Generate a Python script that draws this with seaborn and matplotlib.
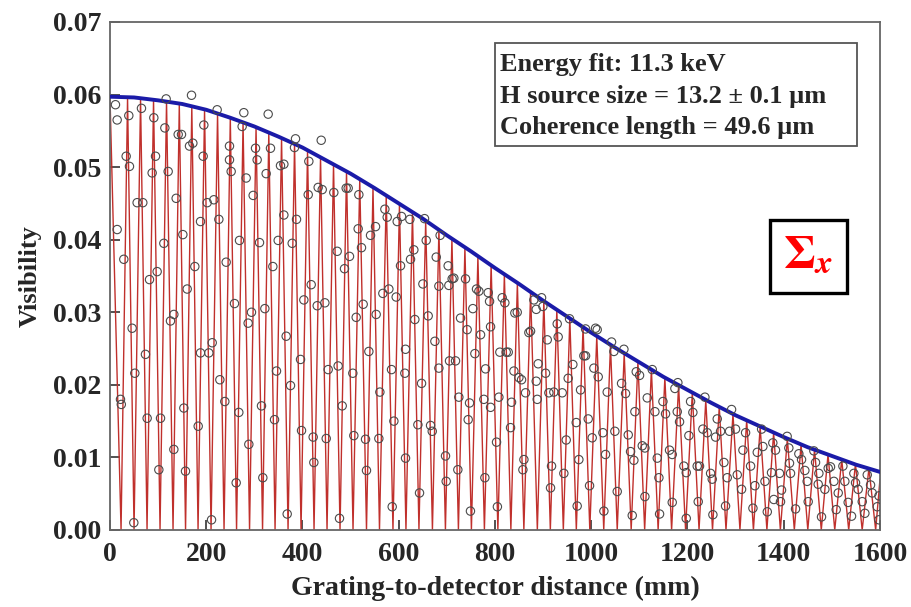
import matplotlib
matplotlib.use("Agg")
import matplotlib.pyplot as plt
import matplotlib.patches as patches
from matplotlib.ticker import FormatStrFormatter
import seaborn as sns
import pandas as pd

# Fitted visibility envelope (blue), every 50 mm
envelope_mm = [0, 50, 100, 150, 200, 250, 300, 350, 400, 450, 500, 550, 600, 650, 700,
               750, 800, 850, 900, 950, 1000, 1050, 1100, 1150, 1200, 1250, 1300, 1350,
               1400, 1450, 1500, 1550, 1600]
envelope_vis = [0.0597, 0.0596, 0.0592, 0.0587, 0.0579, 0.0568, 0.0556, 0.0542, 0.0527,
                0.0509, 0.0491, 0.0471, 0.0450, 0.0429, 0.0406, 0.0384, 0.0361, 0.0339,
                0.0316, 0.0294, 0.0272, 0.0251, 0.0231, 0.0211, 0.0193, 0.0175, 0.0158,
                0.0143, 0.0128, 0.0114, 0.0102, 0.0090, 0.0080]

# Model curve (red): positions where it drops to zero ...
trough_mm = [23, 50, 77, 104, 131, 157, 183, 210, 237, 263, 290, 317, 343, 370, 397, 424,
             451, 478, 505, 533, 560, 588, 615, 642, 670, 697, 724, 751, 778, 806, 833,
             860, 888, 915, 942, 969, 997, 1026, 1054, 1083, 1111, 1139, 1167, 1196, 1224,
             1252, 1280, 1309, 1337, 1365, 1393, 1422, 1450, 1478, 1506, 1535, 1563, 1591]
# ... and its crests, which touch the envelope
crest_mm = [0, 36.5, 63.5, 90.5, 117.5, 144, 170, 196.5, 223.5, 250, 276.5, 303.5, 330,
            356.5, 383.5, 410.5, 437.5, 464.5, 491.5, 519, 546.5, 574, 601.5, 628.5, 656,
            683.5, 710.5, 737.5, 764.5, 792, 819.5, 846.5, 874, 901.5, 928.5, 955.5, 983,
            1011.5, 1040, 1068.5, 1097, 1125, 1153, 1181.5, 1210, 1238, 1266, 1294.5, 1323,
            1351, 1379, 1407.5, 1436, 1464, 1492, 1520.5, 1549, 1577, 1600]
crest_vis = [0.0597, 0.0596, 0.0595, 0.0593, 0.0591, 0.0587, 0.0584, 0.0579, 0.0574, 0.0568,
             0.0562, 0.0555, 0.0548, 0.0540, 0.0532, 0.0523, 0.0514, 0.0504, 0.0494, 0.0483,
             0.0472, 0.0461, 0.0449, 0.0437, 0.0426, 0.0414, 0.0401, 0.0389, 0.0377, 0.0365,
             0.0352, 0.0340, 0.0328, 0.0316, 0.0303, 0.0292, 0.0280, 0.0267, 0.0255, 0.0243,
             0.0232, 0.0221, 0.0210, 0.0199, 0.0189, 0.0179, 0.0170, 0.0160, 0.0151, 0.0142,
             0.0134, 0.0126, 0.0118, 0.0111, 0.0104, 0.0097, 0.0091, 0.0085, 0.0070]

# Measured points (open circles)
point_mm = [
    11.4, 14.9, 14.9, 21.8, 23.5, 28.7, 33.6, 39.1, 40.5, 46.0, 49.5, 51.6, 56.4, 65.4, 68.2,
    73.7, 77.2, 82.1, 87.6, 91.1, 94.6, 98.0, 101.5, 105.0, 111.9, 114.0, 116.7, 120.9, 125.7,
    132.7, 132.7, 137.5, 141.7, 148.6, 151.4, 153.5, 156.9, 160.4, 165.2, 169.4, 172.2, 176.3,
    183.3, 188.1, 188.1, 193.6, 195.0, 202.0, 205.4, 211.0, 212.4, 215.8, 222.7, 226.2, 228.3,
    238.6, 241.4, 248.3, 248.3, 251.8, 258.7, 262.2, 267.7, 269.1, 274.6, 278.1, 283.0, 287.1,
    288.5, 294.0, 297.5, 302.4, 305.8, 310.7, 314.8, 317.6, 321.8, 324.5, 328.7, 333.5, 338.4,
    341.9, 346.0, 349.5, 354.3, 361.3, 361.3, 366.1, 368.2, 375.1, 378.6, 383.4, 385.5, 387.6,
    395.9, 398.0, 402.8, 411.9, 413.2, 418.1, 422.2, 423.6, 430.6, 432.6, 438.9, 441.0, 446.5,
    449.3, 453.4,
    465.1, 472.1, 474.1, 476.9, 482.5, 487.3, 490.8, 494.9, 497.7, 504.6, 506.7, 511.6, 515.7,
    517.1, 522.6, 526.1, 531.0, 533.0, 537.9, 541.4, 551.8, 553.1, 558.7, 560.8, 567.0, 571.2,
    576.0, 579.5, 585.0, 586.4, 589.9, 594.7, 596.8, 603.7, 605.8, 612.7, 614.1, 614.1, 623.1,
    624.5, 631.4, 633.5, 639.8, 643.2, 647.4, 650.2, 653.6, 657.1, 661.2, 666.1, 669.6, 675.1,
    677.9, 683.4, 683.4,
    686.0, 697.2, 698.6, 702.7, 704.1, 705.5, 711.0, 714.5, 718.0, 722.8, 724.9, 728.4, 749.0,
    738.8, 742.2, 744.3, 747.1, 754.0, 758.2, 761.6, 766.5, 770.0, 776.9, 779.0, 780.4, 785.9,
    788.7, 790.8, 790.8, 805.0, 803.2, 808.1, 810.1, 815.0, 820.5, 823.3, 827.5, 832.3, 834.4,
    839.3, 841.3, 846.2, 849.7, 855.2, 858.0, 860.1, 863.5, 870.4, 873.9, 880.8, 885.7, 885.7,
    887.8, 889.8, 896.8, 899.5, 905.1, 908.6, 912.0,
    917.5, 915.4, 922.3, 929.3, 931.3, 939.7, 943.1, 948.0, 952.1, 954.9, 961.8, 968.8, 970.8,
    974.3, 977.8, 984.7, 988.2, 988.2, 993.7, 996.5, 1002.0, 1005.5, 1009.0, 1012.4, 1014.5,
    1024.2, 1026.3, 1029.7, 1033.2, 1042.2, 1047.1, 1049.1, 1054.0, 1063.0, 1067.9, 1071.3,
    1076.9, 1081.7, 1085.2, 1088.6, 1090.7, 1093.5, 1100.4, 1106.0, 1111.5, 1111.5, 1116.4,
    1126.8, 1132.3, 1137.2, 1140.6,
    1142.0, 1149.0, 1154.4, 1162.7, 1168.3, 1168.3, 1173.8, 1180.0, 1178.7, 1183.5, 1192.5,
    1197.4, 1197.4, 1202.9, 1206.4, 1211.2, 1220.2, 1225.0, 1222.3, 1232.0, 1236.2, 1241.0,
    1248.0, 1251.4, 1252.8, 1258.4, 1261.8, 1268.7, 1275.7, 1279.1, 1282.6, 1287.4, 1291.6,
    1299.9, 1303.4, 1312.4, 1315.2, 1320.7, 1331.1, 1336.0, 1340.1, 1345.0, 1354.0, 1356.7,
    1361.0, 1365.8,
    1374.6, 1377.3, 1379.4, 1382.9, 1391.2, 1393.3, 1395.4, 1407.1, 1410.6, 1412.0, 1414.1,
    1424.5, 1431.4, 1437.0, 1443.9, 1448.7, 1450.8, 1462.6, 1466.1, 1471.6, 1473.0, 1478.5,
    1485.5, 1492.4, 1497.2, 1504.2, 1509.0, 1513.2, 1522.9, 1527.0, 1533.9, 1540.9, 1545.7,
    1549.2, 1554.7, 1563.1, 1568.6, 1573.5, 1580.4, 1583.9, 1594.3, 1597.8, 1597.8]
point_vis = [
    0.0586, 0.0565, 0.0414, 0.0180, 0.0173, 0.0373, 0.0515, 0.0571, 0.0501, 0.0278, 0.0010,
    0.0216, 0.0451, 0.0581, 0.0451, 0.0242, 0.0154, 0.0345, 0.0492, 0.0568, 0.0515, 0.0356,
    0.0083, 0.0154, 0.0395, 0.0554, 0.0594, 0.0494, 0.0288, 0.0297, 0.0111, 0.0457, 0.0545,
    0.0545, 0.0407, 0.0168, 0.0081, 0.0332, 0.0529, 0.0599, 0.0533, 0.0363, 0.0143, 0.0425,
    0.0244, 0.0515, 0.0558, 0.0451, 0.0244, 0.0014, 0.0258, 0.0455, 0.0579, 0.0428, 0.0207,
    0.0177, 0.0369, 0.0529, 0.0510, 0.0494, 0.0312, 0.0065, 0.0162, 0.0399, 0.0556, 0.0575,
    0.0485, 0.0285, 0.0118, 0.0300, 0.0461, 0.0526, 0.0510, 0.0396, 0.0171, 0.0072, 0.0305,
    0.0491, 0.0573, 0.0526, 0.0363, 0.0152, 0.0219, 0.0399, 0.0502, 0.0504, 0.0434, 0.0267,
    0.0022, 0.0199, 0.0395, 0.0527, 0.0539, 0.0428, 0.0235, 0.0137, 0.0317, 0.0462, 0.0508,
    0.0338, 0.0128, 0.0093, 0.0309, 0.0472, 0.0537, 0.0469, 0.0313, 0.0126, 0.0221,
    0.0465, 0.0384, 0.0226, 0.0016, 0.0171, 0.0360, 0.0471, 0.0471, 0.0377, 0.0216, 0.0130,
    0.0293, 0.0415, 0.0462, 0.0389, 0.0311, 0.0125, 0.0082, 0.0246, 0.0406, 0.0418, 0.0297,
    0.0126, 0.0190, 0.0326, 0.0442, 0.0431, 0.0332, 0.0221, 0.0032, 0.0150, 0.0321, 0.0425,
    0.0364, 0.0432, 0.0216, 0.0249, 0.0099, 0.0428, 0.0373, 0.0386, 0.0290, 0.0145, 0.0051,
    0.0202, 0.0339, 0.0429, 0.0399, 0.0295, 0.0144, 0.0136, 0.0260, 0.0376, 0.0336, 0.0223,
    0.0406, 0.0102, 0.0067, 0.0364, 0.0337, 0.0233, 0.0346, 0.0347, 0.0233, 0.0083, 0.0183,
    0.0292, 0.0026, 0.0346, 0.0276, 0.0152, 0.0175, 0.0305, 0.0243, 0.0332, 0.0329, 0.0269,
    0.0180, 0.0072, 0.0222, 0.0327, 0.0315, 0.0280, 0.0169, 0.0032, 0.0121, 0.0183, 0.0245,
    0.0320, 0.0313, 0.0245, 0.0245, 0.0141, 0.0176, 0.0219, 0.0299, 0.0300, 0.0210, 0.0207,
    0.0083, 0.0097, 0.0189, 0.0272, 0.0274, 0.0317, 0.0304, 0.0205, 0.0180, 0.0229, 0.0320,
    0.0308, 0.0216, 0.0262, 0.0189,
    0.0088, 0.0058, 0.0190, 0.0284, 0.0266, 0.0189, 0.0078, 0.0124, 0.0209, 0.0291, 0.0228,
    0.0148, 0.0033, 0.0097, 0.0193, 0.0240, 0.0240, 0.0277, 0.0153, 0.0061, 0.0127, 0.0223,
    0.0278, 0.0276, 0.0211, 0.0134, 0.0026, 0.0104, 0.0190, 0.0259, 0.0246, 0.0136, 0.0053,
    0.0202, 0.0249, 0.0188, 0.0131, 0.0108, 0.0020, 0.0096, 0.0163, 0.0218, 0.0213, 0.0116,
    0.0046, 0.0113, 0.0182, 0.0221, 0.0163, 0.0099, 0.0072,
    0.0022, 0.0177, 0.0160, 0.0110, 0.0104, 0.0038, 0.0195, 0.0203, 0.0163, 0.0149, 0.0088,
    0.0079, 0.0016, 0.0130, 0.0177, 0.0162, 0.0088, 0.0088, 0.0039, 0.0139, 0.0183, 0.0134,
    0.0078, 0.0070, 0.0021, 0.0128, 0.0153, 0.0136, 0.0093, 0.0033, 0.0072, 0.0136, 0.0166,
    0.0139, 0.0076, 0.0056, 0.0110, 0.0134, 0.0088, 0.0030, 0.0061, 0.0107, 0.0139, 0.0115,
    0.0067, 0.0025,
    0.0079, 0.0120, 0.0042, 0.0110, 0.0078, 0.0039, 0.0055, 0.0129, 0.0113, 0.0092, 0.0078,
    0.0029, 0.0105, 0.0097, 0.0082, 0.0067, 0.0039, 0.0109, 0.0093, 0.0063, 0.0078, 0.0018,
    0.0056, 0.0085, 0.0087, 0.0067, 0.0028, 0.0051, 0.0088, 0.0067, 0.0038, 0.0019, 0.0078,
    0.0065, 0.0056, 0.0039, 0.0023, 0.0076, 0.0062, 0.0051, 0.0032, 0.0047, 0.0014]

x_ticks = [0, 200, 400, 600, 800, 1000, 1200, 1400, 1600]
y_ticks = [0.00, 0.01, 0.02, 0.03, 0.04, 0.05, 0.06, 0.07]
fit_lines = ["Energy fit: 11.3 keV",
             "H source size = 13.2 \u00b1 0.1 \u00b5m",
             "Coherence length = 49.6 \u00b5m"]

sns.set_style("ticks")
plt.rcParams["font.family"] = ["Liberation Serif", "DejaVu Serif"]
plt.rcParams["font.weight"] = "bold"
plt.rcParams["mathtext.fontset"] = "stix"

# red model curve: troughs at zero + crests, in order along x
red = pd.DataFrame({"mm": trough_mm + crest_mm,
                    "vis": [0.0] * len(trough_mm) + crest_vis}).sort_values("mm")
env = pd.DataFrame({"mm": envelope_mm, "vis": envelope_vis})

fig = plt.figure(figsize=(9.12, 6.07), dpi=100)
ax = fig.add_axes([0.1206, 0.1269, 0.8443, 0.8369])

sns.lineplot(data=red, x="mm", y="vis", estimator=None, sort=False,
             color="#c0302c", linewidth=1.0, ax=ax, zorder=2)
sns.lineplot(data=env, x="mm", y="vis", estimator=None,
             color="#1b1ba8", linewidth=2.8, ax=ax, zorder=3)
sns.scatterplot(x=point_mm, y=point_vis, marker="o", s=36, color="#4a4a4a",
                facecolor="none", edgecolor="#4a4a4a", linewidth=0.8, ax=ax, zorder=4)
ax.collections[-1].set_facecolor("none")

ax.set_xlim(0, 1600)
ax.set_ylim(0, 0.07)
ax.set_xticks(x_ticks)
ax.set_yticks(y_ticks)
ax.yaxis.set_major_formatter(FormatStrFormatter("%.2f"))
ax.tick_params(direction="in", length=7, width=1.2, color="#333333",
               labelsize=20, pad=6)
ax.tick_params(axis="x", pad=9)
for lab in ax.get_xticklabels() + ax.get_yticklabels():
    lab.set_fontweight("bold")
for sp in ax.spines.values():
    sp.set_visible(True)
    sp.set_color("#666666")
    sp.set_linewidth(1.3)

ax.set_xlabel("Grating-to-detector distance (mm)", fontsize=20, fontweight="bold", labelpad=6)
ax.set_ylabel("Visibility", fontsize=19, fontweight="bold", labelpad=8)

# fit results box
ax.add_patch(patches.Rectangle((0.5, 0.756), 0.470, 0.203, transform=ax.transAxes,
                               fill=True, facecolor="white", edgecolor="#555555",
                               linewidth=1.3, zorder=5))
for line, yy in zip(fit_lines, [0.917, 0.854, 0.792]):
    ax.text(0.507, yy, line, transform=ax.transAxes, ha="left", va="center",
            fontsize=19, fontweight="bold", zorder=6)

# Sigma_x tag
ax.add_patch(patches.Rectangle((0.857, 0.4665), 0.100, 0.1437, transform=ax.transAxes,
                               fill=True, facecolor="white", edgecolor="black",
                               linewidth=2.4, zorder=5))
ax.text(0.907, 0.54, r"$\mathbf{\Sigma}_{x}$", transform=ax.transAxes,
        ha="center", va="center", fontsize=34, color="#ff0000", zorder=6)

plt.savefig("out.png", dpi=100)
plt.close()
